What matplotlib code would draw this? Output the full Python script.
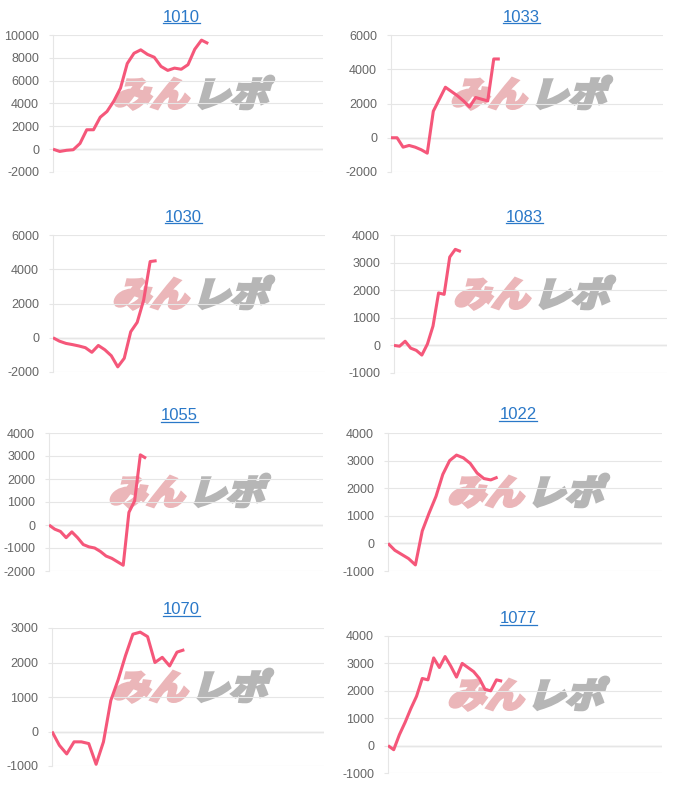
import numpy as np
import matplotlib.pyplot as plt
from matplotlib.lines import Line2D
from matplotlib.patches import PathPatch
from matplotlib.textpath import TextPath
from matplotlib.font_manager import FontProperties
from matplotlib.transforms import Affine2D, IdentityTransform

plt.rcParams["axes.unicode_minus"] = False

# ---- data (balance per game slot)
titles = ["1010", "1033", "1030", "1083", "1055", "1022", "1070", "1077"]

s1010 = [0, -200, -100, -50, 500, 1700, 1700, 2800, 3300, 4200, 5350, 7500,
         8400, 8700, 8300, 8050, 7250, 6900, 7100, 7000, 7400, 8750, 9550, 9250]
s1033 = [0, 0, -550, -450, -550, -700, -900, 1550, 2250, 2950, 2700, 2450,
         2150, 1800, 2350, 2250, 2150, 4600, 4600]
s1030 = [0, -200, -330, -400, -480, -580, -850, -450, -700, -1050, -1700,
         -1200, 350, 900, 2200, 4450, 4500]
s1083 = [0, -30, 150, -100, -180, -350, 50, 700, 1900, 1850, 3200, 3480, 3400]
s1055 = [0, -180, -280, -550, -300, -550, -850, -950, -1000, -1150, -1350,
         -1450, -1600, -1750, 550, 1050, 3050, 2900]
s1022 = [0, -250, -400, -550, -780, 450, 1100, 1700, 2500, 3000, 3200, 3100,
         2900, 2550, 2350, 2300, 2400]
s1070 = [0, -400, -650, -300, -300, -350, -950, -300, 900, 1500, 2200, 2820,
         2880, 2750, 2000, 2150, 1900, 2300, 2370]
s1077 = [0, -150, 400, 850, 1350, 1800, 2450, 2400, 3200, 2850, 3250, 2900,
         2500, 3000, 2850, 2700, 2450, 2050, 2000, 2400, 2350]

series = [s1010, s1033, s1030, s1083, s1055, s1022, s1070, s1077]
slots = [40, 45, 42, 49, 48, 40, 37, 48]          # x-axis length of each chart
ylims = [(-2000, 10000), (-2000, 6000), (-2000, 6000), (-1000, 4000),
         (-2000, 4000), (-1000, 4000), (-1000, 3000), (-1000, 4000)]
ysteps = [2000, 2000, 2000, 1000, 1000, 1000, 1000, 1000]

# ---- layout in pixels: (left, right, top, bottom) of plot area, title x, title baseline
W, H = 680, 791
boxes = [(53, 323, 35, 172), (391, 663, 35, 172),
         (53, 325, 235, 372), (394, 667, 235, 373),
         (49, 323, 433, 571), (388, 662, 433, 571),
         (52, 324, 628, 766), (388, 662, 636, 773)]
title_pos = [(181, 21.5), (521, 21.5), (183, 221.5), (524, 221.5),
             (179, 420), (518, 419), (181, 614), (518, 623)]

line_color = "#f5577a"
grid_color = "#e6e6e6"
title_color = "#2a78c8"

fig = plt.figure(figsize=(W / 100, H / 100), dpi=100)
fig.patch.set_facecolor("white")
renderer = fig.canvas.get_renderer()

cjk = FontProperties(family="Noto Sans CJK JP", weight="black")
skew = 16


def watermark(ax, left_px, top_px):
    # skewed "みん" (pink) + "レポ" (gray) logo, in display pixels
    size, sx, sy = 38, 1.0, 0.92
    p1 = TextPath((0, 0), "みん", size=size, prop=cjk)
    p2 = TextPath((0, 0), "レポ", size=size, prop=cjk)
    w1 = p1.get_extents().x1 * sx
    base = H - (top_px + 59) - 0.36 * size * sy
    for p, dx, c in [(p1, -3, "#ebb6b9"), (p2, w1 + 2, "#b6b6b6")]:
        tr = (Affine2D().scale(sx, sy).skew_deg(skew, 0)
              .translate(left_px + dx, base))
        ax.add_patch(PathPatch(p, transform=tr + IdentityTransform(), fc=c,
                               ec=c, lw=2.0, zorder=1))


for i, (name, vals) in enumerate(zip(titles, series)):
    l, r, t, b = boxes[i]
    ax = fig.add_axes([l / W, 1 - b / H, (r - l) / W, (b - t) / H])
    ax.set_facecolor("none")

    watermark(ax, l + 62, t)

    x = np.arange(len(vals))
    ax.plot(x, vals, color=line_color, linewidth=2.2, solid_joinstyle="round",
            solid_capstyle="butt", zorder=3)

    lo, hi = ylims[i]
    ax.set_xlim(0, slots[i])
    ax.set_ylim(lo, hi)
    ax.set_yticks(np.arange(lo, hi + 1, ysteps[i]))
    ax.set_xticks([])
    ax.grid(axis="y", color=grid_color, linewidth=0.8, zorder=0)
    ax.axhline(0, color="#bdbdbd", linewidth=0.9, zorder=0.6)
    for side in ["top", "right", "bottom"]:
        ax.spines[side].set_visible(False)
    ax.spines["left"].set_color(grid_color)
    ax.spines["left"].set_linewidth(0.8)
    ax.tick_params(axis="y", length=3, width=0.8, color=grid_color, pad=7,
                   labelsize=9, labelcolor="#666666")
    for lab in ax.get_yticklabels():
        lab.set_fontfamily("Liberation Sans")

    # title with underline (link style)
    tx, ty = title_pos[i]
    txt = fig.text(tx / W, 1 - ty / H, name, ha="center", va="baseline",
                   fontsize=12, color=title_color, family="Liberation Sans")
    bb = txt.get_window_extent(renderer)
    uy = (bb.y0 + 1.5) / H
    fig.add_artist(Line2D([bb.x0 / W, bb.x1 / W], [uy, uy], color=title_color,
                          linewidth=0.9, transform=fig.transFigure))

fig.savefig("out.png", dpi=100, facecolor="white")
